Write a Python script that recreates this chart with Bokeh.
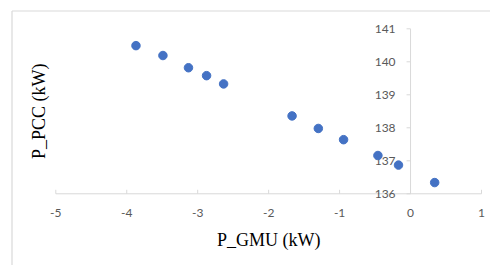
import math
from bokeh.plotting import figure
from bokeh.models import Range1d, ColumnDataSource
from bokeh.core.properties import value
from bokeh.embed import file_html
from bokeh.resources import INLINE

# ---- data ----
p_gmu = [-3.87, -3.49, -3.13, -2.875, -2.635, -1.67, -1.30, -0.944, -0.46, -0.17, 0.34]
p_pcc = [140.49, 140.19, 139.82, 139.58, 139.33, 138.36, 137.98, 137.64, 137.16, 136.87, 136.34]

x_ticks = [-5, -4, -3, -2, -1, 0, 1]
x_tick_labels = ["-5", "-4", "-3", "-2", "-1", "0", "1"]
y_ticks = [136, 137, 138, 139, 140, 141]
y_tick_labels = ["136", "137", "138", "139", "140", "141"]
y_axis_crossing = 0          # value axis crosses the horizontal axis at x = 0

x_title = "P_GMU (kW)"
y_title = "P_PCC (kW)"

# ---- styles / layout ----
axis_gray = "#d9d9d9"
label_gray = "#595959"
point_color = "#4472C4"
W, H = 490, 265
X_RANGE = (-5.7794, 1.1268)
Y_RANGE = (133.827, 141.8576)

p = figure(width=W, height=H, output_backend="svg", toolbar_location=None,
           x_range=Range1d(*X_RANGE), y_range=Range1d(*Y_RANGE),
           min_border=0, min_border_left=0, min_border_right=0,
           min_border_top=0, min_border_bottom=0)
p.xaxis.visible = False
p.yaxis.visible = False
p.grid.visible = False
p.outline_line_color = None
p.background_fill_color = "white"
p.border_fill_color = "white"

def x_at(px):
    return X_RANGE[0] + px / W * (X_RANGE[1] - X_RANGE[0])

def y_at(py):
    return Y_RANGE[1] - py / H * (Y_RANGE[1] - Y_RANGE[0])

# chart-area border (left and top edges visible)
bx, by = x_at(11.5), y_at(10.5)
p.segment(x0=[bx, bx], y0=[by, by], x1=[bx, X_RANGE[1]], y1=[Y_RANGE[0], by],
          line_color=axis_gray, line_width=1.2)

x_base = min(y_ticks)

# horizontal axis (at the bottom of the value range)
p.segment(x0=[min(x_ticks)], y0=[x_base], x1=[max(x_ticks)], y1=[x_base],
          line_color=axis_gray, line_width=1)
p.ray(x=x_ticks, y=[x_base] * len(x_ticks), length=4, length_units="screen",
      angle=math.pi / 2, line_color=axis_gray, line_width=1)
p.text(x=x_ticks, y=[x_base] * len(x_ticks), text=x_tick_labels, y_offset=19,
       text_align="center", text_baseline="middle", text_font=value("Lato"),
       text_font_size="12px", text_color=label_gray)

# vertical axis crossing at x = 0
p.segment(x0=[y_axis_crossing], y0=[min(y_ticks)], x1=[y_axis_crossing], y1=[max(y_ticks)],
          line_color=axis_gray, line_width=1)
p.ray(x=[y_axis_crossing] * len(y_ticks), y=y_ticks, length=4, length_units="screen",
      angle=math.pi, line_color=axis_gray, line_width=1)
p.text(x=[y_axis_crossing] * len(y_ticks), y=y_ticks, text=y_tick_labels, x_offset=-15,
       text_align="right", text_baseline="middle", text_font=value("Lato"),
       text_font_size="12px", text_color=label_gray)

# axis titles
x_mid = (min(x_ticks) + max(x_ticks)) / 2
y_mid = (min(y_ticks) + max(y_ticks)) / 2
p.text(x=[x_mid], y=[x_base], text=[x_title], y_offset=46,
       text_align="center", text_baseline="middle", text_font=value("Liberation Serif"),
       text_font_size="18px", text_color="black")
p.text(x=[min(x_ticks)], y=[y_mid], text=[y_title], x_offset=-17, angle=math.pi / 2,
       text_align="center", text_baseline="middle", text_font=value("Liberation Serif"),
       text_font_size="18px", text_color="black")

# data points
src = ColumnDataSource(dict(x=p_gmu, y=p_pcc))
p.scatter("x", "y", source=src, size=8.5, color=point_color, line_color=point_color)

open("out.html", "w").write(file_html(p, INLINE))
